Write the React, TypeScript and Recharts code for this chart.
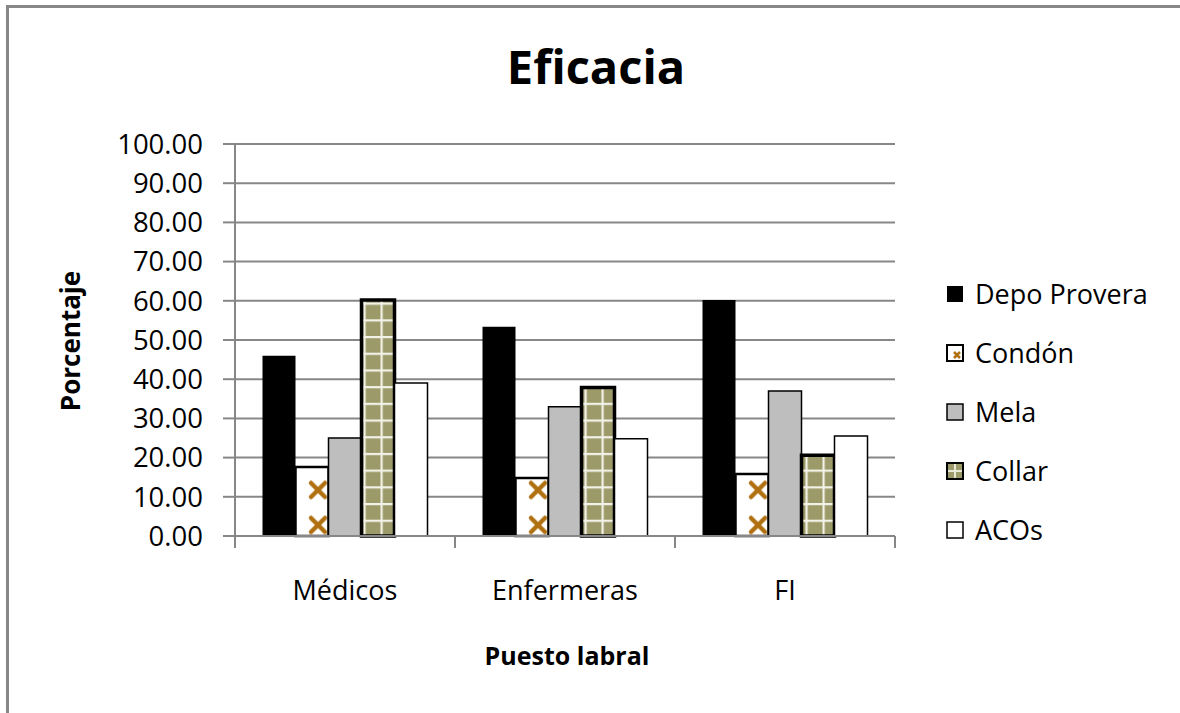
import React from 'react';
import { BarChart, Bar, XAxis, YAxis, CartesianGrid } from 'recharts';

const categories = ['Médicos', 'Enfermeras', 'FI'];
const depoProvera = [46.0, 53.4, 60.2];
const condon = [17.6, 14.8, 15.8];
const mela = [25.0, 33.0, 37.0];
const collar = [60.2, 37.9, 20.6];
const acos = [39.0, 24.8, 25.5];
const yTicks = [0, 10, 20, 30, 40, 50, 60, 70, 80, 90, 100];

const seriesNames = ['Depo Provera', 'Condón', 'Mela', 'Collar', 'ACOs'];
const seriesValues = [depoProvera, condon, mela, collar, acos];
const seriesKeys = ['depo', 'condon', 'mela', 'collar', 'acos'];

const data = categories.map((c, i) => {
  const row: any = { name: c };
  seriesKeys.forEach((k, j) => {
    row[k] = seriesValues[j][i];
  });
  return row;
});

const FONT = '"Open Sans", "Noto Sans", sans-serif';
const W = 1180;
const H = 713;
const M = { top: 144, right: 285, bottom: 117, left: 115 };
const Y_W = 120;
const X_H = 60;
const BAND = (W - M.left - Y_W - M.right) / categories.length;
const GRAY = '#878787';

const styles = [
  { fill: '#000000', stroke: '#000000', strokeWidth: 0 },
  { fill: 'url(#condonPat)', stroke: '#000000', strokeWidth: 2.5 },
  { fill: '#BEBEBE', stroke: '#000000', strokeWidth: 1.5 },
  { fill: 'url(#collarPat)', stroke: '#000000', strokeWidth: 3.5 },
  { fill: '#FFFFFF', stroke: '#000000', strokeWidth: 1.5 },
];

const XTick = (props: any) => {
  const { x, y, payload } = props;
  return (
    <g>
      <line x1={x - BAND / 2} x2={x - BAND / 2} y1={y} y2={y + 12} stroke={GRAY} strokeWidth={2} />
      <line x1={x + BAND / 2} x2={x + BAND / 2} y1={y} y2={y + 12} stroke={GRAY} strokeWidth={2} />
      <text x={x} y={y + 54} dy="0.355em" textAnchor="middle" fontFamily={FONT} fontSize={27} fill="#000">
        {payload.value}
      </text>
    </g>
  );
};

const LegendIcon = ({ i }: { i: number }) => {
  if (i === 0) return <svg width={18} height={18}><rect x={1} y={1} width={16} height={16} fill="#000" /></svg>;
  if (i === 1)
    return (
      <svg width={18} height={18}>
        <rect x={1} y={1} width={16} height={16} fill="#fff" stroke="#000" strokeWidth={2} />
        <path d="M8 8 L14 14 M14 8 L8 14" stroke="#B07010" strokeWidth={2.5} />
      </svg>
    );
  if (i === 2)
    return <svg width={18} height={18}><rect x={1} y={1} width={16} height={16} fill="#BEBEBE" stroke="#000" strokeWidth={1.5} /></svg>;
  if (i === 3)
    return (
      <svg width={18} height={18}>
        <rect x={1} y={1} width={16} height={16} fill="#9C9A68" stroke="#000" strokeWidth={2} />
        <path d="M9 2 L9 16 M2 9 L16 9" stroke="#E8E8D8" strokeWidth={2} />
      </svg>
    );
  return <svg width={18} height={18}><rect x={1} y={1} width={16} height={16} fill="#fff" stroke="#000" strokeWidth={1.5} /></svg>;
};

export default function App() {
  return (
    <div style={{ position: 'absolute', left: 0, top: 0, width: W, height: H, background: '#fff', overflow: 'hidden' }}>
      <div
        style={{
          position: 'absolute',
          left: 6,
          top: 5,
          width: W,
          height: H,
          borderLeft: `3px solid ${GRAY}`,
          borderTop: `3px solid ${GRAY}`,
        }}
      />
      <div
        style={{
          position: 'absolute',
          left: 0,
          width: W,
          top: 31,
          textAlign: 'center',
          paddingLeft: 12,
          boxSizing: 'border-box',
          fontFamily: FONT,
          fontWeight: 700,
          fontSize: 47,
          lineHeight: '70px',
        }}
      >
        Eficacia
      </div>
      <div style={{ position: 'absolute', left: 0, top: 0 }}>
        <BarChart width={W} height={H} data={data} margin={M} barGap={0} barCategoryGap="12.5%">
          <defs>
            <pattern id="condonPat" patternUnits="userSpaceOnUse" x={6.67} y={17.5} width={36.667} height={35}>
              <rect x={0} y={0} width={36.667} height={35} fill="#fff" />
              <path d="M11 10.5 L25 24.5 M25 10.5 L11 24.5" stroke="#B07010" strokeWidth={4.5} strokeLinecap="round" />
            </pattern>
            <pattern id="collarPat" patternUnits="userSpaceOnUse" x={6.5} y={2} width={17} height={16.7}>
              <rect x={0} y={0} width={17} height={16.7} fill="#9C9A68" />
              <rect x={0} y={0} width={17} height={2.2} fill="#F2F2E8" />
              <rect x={0} y={0} width={2.2} height={16.7} fill="#F2F2E8" />
            </pattern>
          </defs>
          <CartesianGrid vertical={false} stroke={GRAY} strokeWidth={2} />
          <XAxis
            dataKey="name"
            height={X_H}
            axisLine={{ stroke: GRAY, strokeWidth: 2 }}
            tickLine={false}
            tickSize={0}
            tickMargin={0}
            tick={<XTick />}
            interval={0}
          />
          <YAxis
            width={Y_W}
            domain={[0, 100]}
            ticks={yTicks}
            interval={0}
            axisLine={{ stroke: GRAY, strokeWidth: 2 }}
            tickLine={{ stroke: GRAY, strokeWidth: 2 }}
            tickSize={12}
            tickMargin={20}
            tickFormatter={(v: number) => v.toFixed(2)}
            tick={{ fontFamily: FONT, fontSize: 27.5, fill: '#000' }}
          />
          {seriesKeys.map((k, j) => (
            <Bar
              key={k}
              dataKey={k}
              name={seriesNames[j]}
              fill={styles[j].fill}
              stroke={styles[j].stroke}
              strokeWidth={styles[j].strokeWidth}
              isAnimationActive={false}
            />
          ))}
        </BarChart>
      </div>
      <div
        style={{
          position: 'absolute',
          left: 70,
          top: 341,
          transform: 'translate(-50%, -50%) rotate(-90deg)',
          fontFamily: FONT,
          fontWeight: 700,
          fontSize: 26,
          whiteSpace: 'nowrap',
        }}
      >
        Porcentaje
      </div>
      <div
        style={{
          position: 'absolute',
          left: 567,
          top: 655,
          transform: 'translate(-50%, -50%)',
          fontFamily: FONT,
          fontWeight: 700,
          fontSize: 25,
          whiteSpace: 'nowrap',
        }}
      >
        Puesto labral
      </div>
      <div style={{ position: 'absolute', left: 946, top: 264 }}>
        {seriesNames.map((n, i) => (
          <div key={n} style={{ display: 'flex', alignItems: 'center', height: 59.2 }}>
            <LegendIcon i={i} />
            <span style={{ marginLeft: 11, fontFamily: FONT, fontSize: 27, lineHeight: '38px' }}>{n}</span>
          </div>
        ))}
      </div>
    </div>
  );
}
